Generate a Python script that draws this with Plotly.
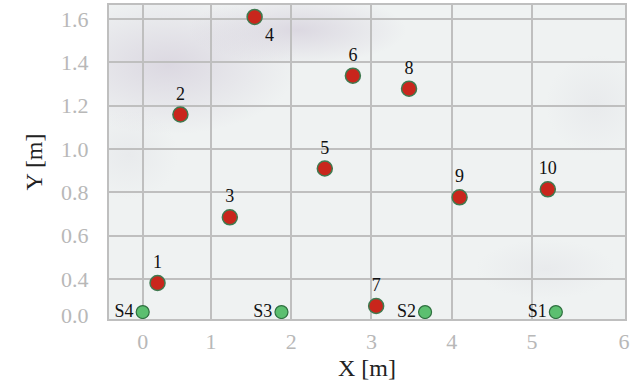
import base64
import plotly.graph_objects as go

# Axis ticks (positions in plot units, labels as printed)
X_TICK_POS = [0.0, 0.852, 1.852, 2.852, 3.852, 4.852, 6.0]
X_TICK_TEXT = ["0", "1", "2", "3", "4", "5", "6"]
Y_TICK_POS = [0.234, 0.4, 0.6, 0.8, 1.0, 1.2, 1.4, 1.6]
Y_TICK_TEXT = ["0.0", "0.4", "0.6", "0.8", "1.0", "1.2", "1.4", "1.6"]
Y_GRID = [0.4, 0.6, 0.8, 1.0, 1.2, 1.4, 1.6]

# Measurement points (red)
POINT_LABELS = ["1", "2", "3", "4", "5", "6", "7", "8", "9", "10"]
POINT_X = [0.185, 0.47, 1.086, 1.395, 2.27, 2.62, 2.91, 3.32, 3.95, 5.05]
POINT_Y = [0.382, 1.159, 0.685, 1.609, 0.910, 1.338, 0.276, 1.278, 0.777, 0.814]

# Sensors (green)
SENSOR_LABELS = ["S1", "S2", "S3", "S4"]
SENSOR_X = [5.15, 3.52, 1.73, 0.0]
SENSOR_Y = [0.248, 0.248, 0.248, 0.248]

SERIF = "Liberation Serif"
GRID = "#bfbfbf"

# subtle marble-like background texture (decorative)
svg = """<svg xmlns='http://www.w3.org/2000/svg' width='520' height='315' viewBox='0 0 520 315'>
<defs>
<radialGradient id='p'><stop offset='0' stop-color='#d3cdda' stop-opacity='0.7'/><stop offset='1' stop-color='#d3cdda' stop-opacity='0'/></radialGradient>
<radialGradient id='q'><stop offset='0' stop-color='#dcdce2' stop-opacity='0.35'/><stop offset='1' stop-color='#dcdce2' stop-opacity='0'/></radialGradient>
</defs>
<rect width='520' height='315' fill='#eff2f2'/>
<ellipse cx='60' cy='60' rx='130' ry='70' fill='url(#p)'/>
<ellipse cx='190' cy='25' rx='110' ry='35' fill='url(#p)'/>
<ellipse cx='20' cy='150' rx='50' ry='45' fill='url(#q)'/>
<ellipse cx='490' cy='100' rx='50' ry='50' fill='url(#q)'/>
<ellipse cx='440' cy='265' rx='70' ry='30' fill='url(#q)'/>
</svg>"""
BG = "data:image/svg+xml;base64," + base64.b64encode(svg.encode()).decode()

fig = go.Figure()

fig.add_trace(go.Scatter(
    x=POINT_X, y=POINT_Y, mode="markers+text",
    text=POINT_LABELS,
    textposition=["top center" if l != "4" else "bottom right" for l in POINT_LABELS],
    textfont=dict(family=SERIF, size=18, color="#111111"),
    marker=dict(size=15, color="#c9261c", line=dict(color="#3f7a50", width=1.5)),
    showlegend=False, cliponaxis=False,
))

fig.add_trace(go.Scatter(
    x=SENSOR_X, y=SENSOR_Y, mode="markers+text",
    text=SENSOR_LABELS, textposition="middle left",
    textfont=dict(family=SERIF, size=18, color="#111111"),
    marker=dict(size=13, color="#5cbf70", line=dict(color="#2f7040", width=1.2)),
    showlegend=False, cliponaxis=False,
))

fig.update_layout(
    width=633, height=387,
    margin=dict(l=109, r=3, t=4, b=68),
    paper_bgcolor="white",
    plot_bgcolor="#eff2f2",
    font=dict(family=SERIF),
    images=[dict(source=BG, xref="paper", yref="paper", x=0, y=1, sizex=1, sizey=1,
                 sizing="stretch", layer="below", xanchor="left", yanchor="top")],
)

fig.update_xaxes(
    range=[-0.42, 6.012],
    tickmode="array", tickvals=X_TICK_POS, ticktext=X_TICK_TEXT,
    tickfont=dict(family=SERIF, size=22, color="#b8b8b8"),
    showgrid=True, gridcolor=GRID, gridwidth=2,
    showline=True, mirror=True, linecolor=GRID, linewidth=2,
    zeroline=False, ticks="", ticklabelstandoff=2,
    title=dict(text="X [m]", font=dict(family=SERIF, size=24, color="#222222"), standoff=6),
)

fig.update_yaxes(
    range=[0.216, 1.664],
    tickmode="array", tickvals=Y_TICK_POS, ticktext=Y_TICK_TEXT,
    tickfont=dict(family=SERIF, size=22, color="#b8b8b8"),
    showgrid=False,
    minor=dict(tickmode="array", tickvals=Y_GRID, showgrid=True, gridcolor=GRID, gridwidth=2),
    showline=True, mirror=True, linecolor=GRID, linewidth=2,
    zeroline=False, ticks="", ticklabelstandoff=14,
    title=dict(text="Y [m]", font=dict(family=SERIF, size=24, color="#222222"), standoff=12),
)

fig.write_html("out.html")
